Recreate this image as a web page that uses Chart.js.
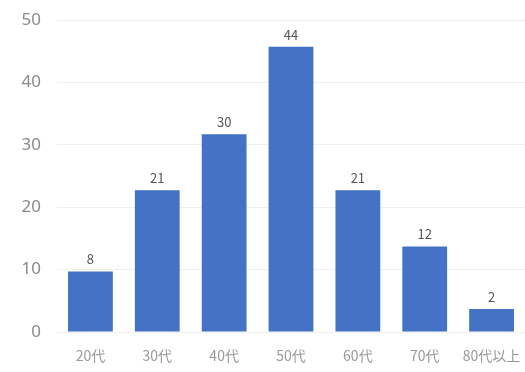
<!DOCTYPE html>
<html>
<head>
<meta charset="utf-8">
<script src="https://cdn.jsdelivr.net/npm/chart.js@4/dist/chart.umd.min.js"></script>
<style>
  html, body { margin: 0; padding: 0; background: #ffffff; }
  #wrap { width: 525px; height: 372px; }
</style>
</head>
<body>
<div id="wrap"><canvas id="c"></canvas></div>
<script>
// Data
const categories = ['20代', '30代', '40代', '50代', '60代', '70代', '80代以上'];
const counts = [8, 21, 30, 44, 21, 12, 2];
const yTickValues = [0, 10, 20, 30, 40, 50];
// In the reference the axis baseline sits slightly below the value 0 of the bars
const axisShift = 1.7;

const valueLabels = {
  id: 'valueLabels',
  afterDatasetsDraw(chart) {
    const ctx = chart.ctx;
    const meta = chart.getDatasetMeta(0);
    ctx.save();
    ctx.fillStyle = '#555555';
    ctx.font = '13px "Noto Sans CJK JP", "DejaVu Sans", sans-serif';
    ctx.textAlign = 'center';
    ctx.textBaseline = 'middle';
    meta.data.forEach((bar, i) => {
      ctx.fillText(String(chart.data.datasets[0].data[i]), bar.x, bar.y - 12);
    });
    ctx.restore();
  }
};

new Chart(document.getElementById('c'), {
  type: 'bar',
  data: {
    labels: categories,
    datasets: [{
      data: counts,
      base: -axisShift,
      backgroundColor: '#4472C4',
      borderWidth: 0,
      categoryPercentage: 1.0,
      barPercentage: 0.67
    }]
  },
  options: {
    responsive: true,
    maintainAspectRatio: false,
    animation: false,
    layout: { padding: { top: 20, right: 0, bottom: 0, left: 0 } },
    plugins: { legend: { display: false }, tooltip: { enabled: false } },
    scales: {
      x: {
        grid: { display: false, drawTicks: false },
        border: { display: false },
        ticks: {
          color: '#9a9a9a',
          padding: 15,
          maxRotation: 0,
          autoSkip: false,
          font: { size: 14, family: '"Noto Sans CJK JP", sans-serif' }
        },
        afterFit(scale) { scale.paddingRight = 0; scale.paddingLeft = 0; scale.height = 40; }
      },
      y: {
        min: -axisShift,
        max: 50 - axisShift,
        grid: { color: '#f0f0f0', drawTicks: false },
        border: { display: false },
        afterBuildTicks(scale) {
          scale.ticks = yTickValues.map(v => ({ value: v - axisShift }));
        },
        afterFit(scale) { scale.width = 57; scale.paddingTop = 0; scale.paddingBottom = 0; },
        ticks: {
          color: '#8a8a8a',
          padding: 16,
          font: { size: 17, family: '"Noto Sans", sans-serif' },
          callback: (v) => String(Math.round(v + axisShift))
        }
      }
    }
  },
  plugins: [valueLabels]
});
</script>
</body>
</html>
